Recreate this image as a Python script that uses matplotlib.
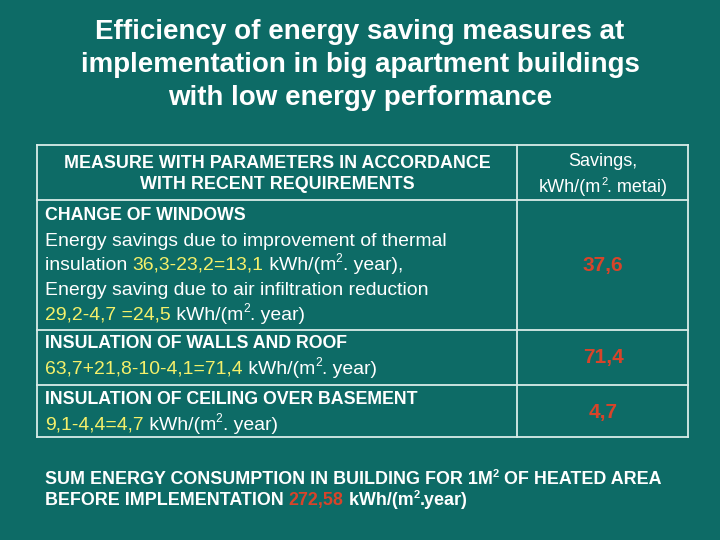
import matplotlib
matplotlib.use("Agg")
import matplotlib.pyplot as plt

measures = ["CHANGE OF WINDOWS", "INSULATION OF WALLS AND ROOF", "INSULATION OF CEILING OVER BASEMENT"]
savings = [37.6, 71.4, 4.7]
calc_windows_thermal = "36,3-23,2=13,1"
calc_windows_air = "29,2-4,7 =24,5"
calc_walls = "63,7+21,8-10-4,1=71,4"
calc_basement = "9,1-4,4=4,7"
total_consumption = "272,58"

BG = "#0d6b66"; W = "white"; Y = "#f5f06a"; R = "#d8442a"
FONT = "Liberation Sans"

fig = plt.figure(figsize=(7.2, 5.4), dpi=100, facecolor=BG)
ax = fig.add_axes([0, 0, 1, 1]); ax.set_xlim(0, 720); ax.set_ylim(540, 0); ax.axis("off")
ax.set_facecolor(BG)
r = fig.canvas.get_renderer()

def segs(x, y, parts, size=12, bold=False, ha="left"):
    objs = []
    for t, c, sup in parts:
        s = size * 0.62 if sup else size
        o = ax.text(0, 0, t, color=c, fontsize=s, fontfamily=FONT,
                    fontweight="bold" if bold else "normal", va="baseline", ha="left")
        objs.append((o, sup))
    widths = [o.get_window_extent(r).width for o, _ in objs]
    total = sum(widths)
    cx = x - (total / 2 if ha == "center" else 0)
    for (o, sup), w in zip(objs, widths):
        o.set_position((cx, y - (size * 0.55 if sup else 0)))
        cx += w

for i, line in enumerate(["Efficiency of energy saving measures at",
                          "implementation in big apartment buildings",
                          "with low energy performance"]):
    ax.text(360, 39 + i * 33, line, color=W, fontsize=20, fontweight="bold",
            fontfamily=FONT, ha="center", va="baseline")

L, M, Rr = 37, 517, 688
rows = [145, 200, 330, 385, 437]
for y in rows:
    ax.plot([L, Rr], [y, y], color="#d8ece8", lw=1.3)
for x in (L, M, Rr):
    ax.plot([x, x], [rows[0], rows[-1]], color="#d8ece8", lw=1.3)

segs(277, 168, [("MEASURE WITH PARAMETERS IN ACCORDANCE", W, 0)], 12.9, True, "center")
segs(277, 189, [("WITH RECENT REQUIREMENTS", W, 0)], 12.9, True, "center")
segs(603, 166, [("Savings,", W, 0)], 13, False, "center")
segs(603, 192, [("kWh/(m", W, 0), ("2", W, 1), (". metai)", W, 0)], 13, False, "center")

x0 = 45
BS, NS = 12.8, 13.95
segs(x0, 220, [(measures[0], W, 0)], BS, True)
segs(x0, 246, [("Energy savings due to improvement of thermal", W, 0)], NS)
segs(x0, 270, [("insulation ", W, 0), (calc_windows_thermal, Y, 0), (" kWh/(m", W, 0), ("2", W, 1), (". year),", W, 0)], NS)
segs(x0, 295, [("Energy saving due to air infiltration reduction", W, 0)], NS)
segs(x0, 320, [(calc_windows_air, Y, 0), (" kWh/(m", W, 0), ("2", W, 1), (". year)", W, 0)], NS)
segs(x0, 348, [(measures[1], W, 0)], BS, True)
segs(x0, 374, [(calc_walls, Y, 0), (" kWh/(m", W, 0), ("2", W, 1), (". year)", W, 0)], NS)
segs(x0, 404, [(measures[2], W, 0)], BS, True)
segs(x0, 430, [(calc_basement, Y, 0), (" kWh/(m", W, 0), ("2", W, 1), (". year)", W, 0)], NS)

for v, y in zip(savings, [271, 363, 418]):
    segs(603, y, [(f"{v:.1f}".replace(".", ","), R, 0)], 15, True, "center")

segs(45, 484, [("SUM ENERGY CONSUMPTION IN BUILDING FOR 1M", W, 0), ("2", W, 1), (" OF HEATED AREA", W, 0)], 12.9, True)
segs(45, 505, [("BEFORE IMPLEMENTATION ", W, 0), (total_consumption, R, 0), (" kWh/(m", W, 0), ("2", W, 1), (".year)", W, 0)], 12.9, True)

fig.savefig("out.png", dpi=100, facecolor=BG)
